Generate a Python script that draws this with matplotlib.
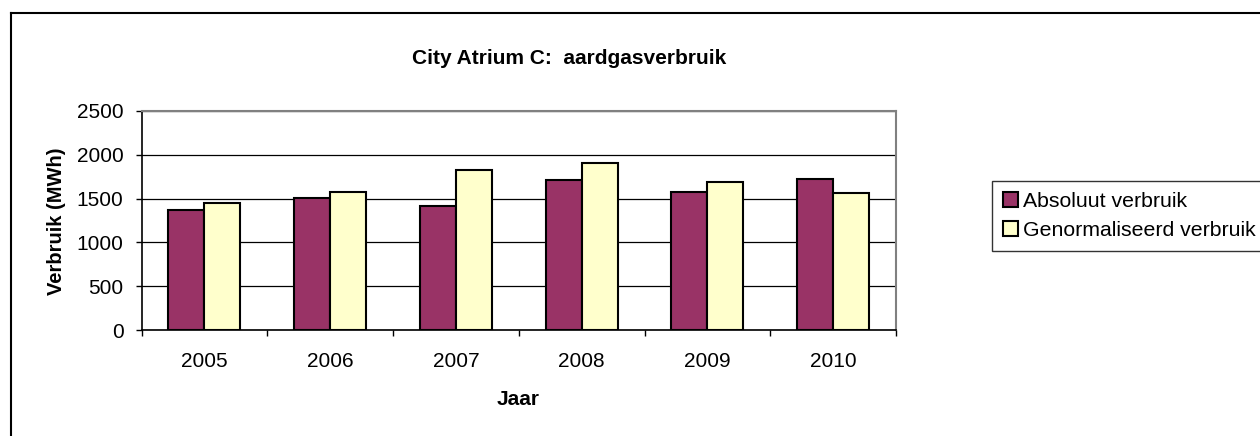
import matplotlib
matplotlib.use("Agg")
import matplotlib.pyplot as plt
import numpy as np
from matplotlib.lines import Line2D

years = ["2005", "2006", "2007", "2008", "2009", "2010"]
absoluut = [1370, 1507, 1412, 1708, 1579, 1728]
genormaliseerd = [1450, 1575, 1826, 1906, 1689, 1564]
yticks = [0, 500, 1000, 1500, 2000, 2500]

plt.rcParams['font.family'] = ['Liberation Sans', 'DejaVu Sans']

W, H = 1260, 436
fig = plt.figure(figsize=(W / 100, H / 100), dpi=100)
fig.patch.set_facecolor('white')

def fx(px):
    return px / W

def fy(py):
    return 1 - py / H

ax = fig.add_axes([fx(141.5), fy(330), fx(896) - fx(141.5), fy(111) - fy(330)])

x = np.arange(len(years))
bw = 1 / 3.5
ax.bar(x - bw / 2, absoluut, bw, color='#993366', edgecolor='black', linewidth=1.5,
       label='Absoluut verbruik', zorder=3)
ax.bar(x + bw / 2, genormaliseerd, bw, color='#FFFFCC', edgecolor='black', linewidth=1.5,
       label='Genormaliseerd verbruik', zorder=3)

ax.set_xlim(-0.5, len(years) - 0.5)
ax.set_ylim(0, 2500)
ax.set_yticks(yticks)
ax.set_yticklabels([str(v) for v in yticks])
ax.yaxis.grid(True, color='black', linewidth=0.9, zorder=0)
ax.set_axisbelow(True)

# category labels at centers, ticks at boundaries
ax.set_xticks(x)
ax.set_xticklabels(years)
ax.tick_params(axis='x', which='major', length=0, pad=16)
ax.set_xticks(np.arange(-0.5, len(years)), minor=True)
ax.tick_params(axis='x', which='minor', length=4.5, width=1, color='black', direction='out')
ax.tick_params(axis='y', length=4, width=1, color='black', direction='out', pad=9)
ax.tick_params(labelsize=15)

for s in ['top', 'right']:
    ax.spines[s].set_color('#808080')
    ax.spines[s].set_linewidth(1.5)
for s in ['left', 'bottom']:
    ax.spines[s].set_color('black')
    ax.spines[s].set_linewidth(1.2)

fig.text(fx(569), fy(59), 'City Atrium C:  aardgasverbruik', ha='center', va='center',
         fontsize=15, fontweight='bold')
fig.text(fx(56), fy(221), 'Verbruik (MWh)', ha='center', va='center', rotation=90,
         fontsize=14.5, fontweight='bold')
fig.text(fx(518), fy(399), 'Jaar', ha='center', va='center', fontsize=15, fontweight='bold')

leg = fig.legend(loc='upper left', bbox_to_anchor=(fx(992), fy(181)), fontsize=15.3,
                 frameon=True, fancybox=False, shadow=False, handlelength=0.7,
                 handleheight=0.7, handletextpad=0.25, labelspacing=0.5, borderpad=0.5,
                 borderaxespad=0)
leg.get_frame().set_edgecolor('black')
leg.get_frame().set_linewidth(1.0)
for h in leg.legend_handles:
    h.set_linewidth(1.5)

# outer chart border (partly outside the image)
fig.add_artist(Line2D([fx(11), fx(1300)], [fy(13), fy(13)], color='black', linewidth=1.5,
                      transform=fig.transFigure))
fig.add_artist(Line2D([fx(11), fx(11)], [fy(13), fy(480)], color='black', linewidth=1.5,
                      transform=fig.transFigure))

fig.savefig('out.png', dpi=100)
